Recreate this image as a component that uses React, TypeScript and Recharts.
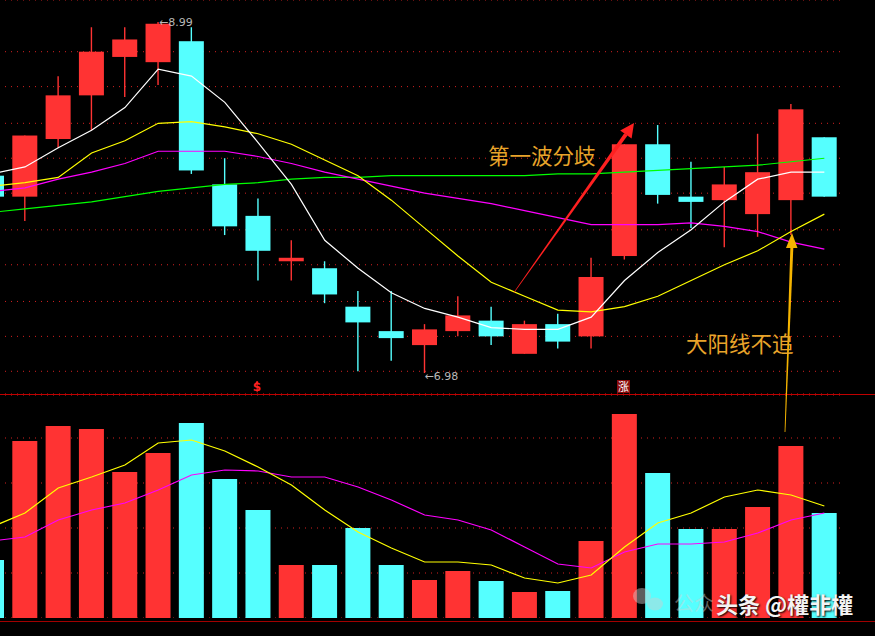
import React from "react";
import { Bar, CartesianGrid, Cell, ComposedChart, Line, XAxis, YAxis } from "recharts";

const RED = "#ff3333";
const CYAN = "#55ffff";
const GRID = "#d42020";

const days = Array.from({ length: 26 }, (_, i) => `D${i + 1}`);
const open = [8.11, 7.99, 8.32, 8.57, 8.79, 8.76, 8.88, 8.06, 7.88, 7.62, 7.58, 7.36, 7.22, 7.14, 7.22, 7.28, 7.09, 7.26, 7.19, 7.65, 8.29, 7.99, 7.97, 7.89, 7.97, 8.33];
const close = [7.99, 8.34, 8.57, 8.82, 8.89, 8.98, 8.14, 7.82, 7.68, 7.64, 7.43, 7.27, 7.18, 7.23, 7.31, 7.19, 7.26, 7.16, 7.53, 8.29, 8.0, 7.96, 8.06, 8.13, 8.49, 7.99];
const high = [8.12, 8.34, 8.68, 8.96, 8.96, 8.99, 8.96, 8.21, 7.98, 7.74, 7.62, 7.45, 7.45, 7.26, 7.42, 7.36, 7.28, 7.32, 7.64, 8.29, 8.4, 8.19, 8.16, 8.35, 8.52, 8.33];
const low = [7.98, 7.85, 8.27, 8.37, 8.56, 8.63, 8.12, 7.77, 7.51, 7.51, 7.38, 6.99, 7.05, 6.98, 7.19, 7.14, 7.09, 7.12, 7.12, 7.63, 7.95, 7.81, 7.7, 7.76, 7.77, 7.99];
const ma5 = [8.12, 8.16, 8.27, 8.37, 8.5, 8.72, 8.68, 8.53, 8.3, 8.06, 7.74, 7.58, 7.44, 7.35, 7.3, 7.24, 7.23, 7.23, 7.3, 7.51, 7.67, 7.8, 7.96, 8.09, 8.13, 8.13];
const ma10 = [8.05, 8.07, 8.1, 8.24, 8.31, 8.41, 8.42, 8.39, 8.35, 8.29, 8.2, 8.11, 7.97, 7.81, 7.65, 7.5, 7.42, 7.34, 7.33, 7.36, 7.42, 7.51, 7.6, 7.68, 7.79, 7.89];
const ma20 = [8.02, 8.04, 8.09, 8.13, 8.18, 8.25, 8.25, 8.25, 8.22, 8.18, 8.13, 8.09, 8.05, 8.01, 7.98, 7.95, 7.91, 7.87, 7.83, 7.83, 7.83, 7.84, 7.82, 7.79, 7.73, 7.69];
const ma60 = [7.9, 7.92, 7.94, 7.96, 7.99, 8.02, 8.04, 8.06, 8.07, 8.09, 8.1, 8.1, 8.11, 8.11, 8.11, 8.11, 8.11, 8.12, 8.12, 8.13, 8.14, 8.15, 8.16, 8.17, 8.19, 8.21];
const volume = [58, 177, 192, 189, 146, 165, 195, 139, 108, 53, 53, 90, 53, 38, 47, 37, 26, 27, 77, 204, 145, 89, 89, 111, 172, 105];
const volMa5 = [91, 105, 130, 141, 153, 175, 178, 167, 151, 133, 108, 86, 70, 56, 56, 53, 40, 35, 43, 71, 95, 105, 121, 128, 123, 112];
const volMa10 = [77, 81, 98, 108, 115, 128, 143, 148, 147, 141, 141, 131, 118, 103, 98, 88, 71, 54, 50, 66, 74, 74, 76, 85, 98, 105];
const priceTicks = [8.82, 8.62, 8.41, 8.21, 8.01, 7.8, 7.6, 7.39, 7.19, 6.99];
const volumeTicks = [45, 90, 135, 180];
const highMarkDay = "D6";
const lowMarkDay = "D14";

const rows = days.map((day, i) => ({
  day,
  open: open[i],
  close: close[i],
  high: high[i],
  low: low[i],
  range: [low[i], high[i]],
  ma5: ma5[i],
  ma10: ma10[i],
  ma20: ma20[i],
  ma60: ma60[i],
  vol: volume[i],
  volMa5: volMa5[i],
  volMa10: volMa10[i],
}));

function Candle(props: any) {
  const { x, y, width, height, payload } = props;
  const { open, close, high, low, day } = payload;
  const color = close >= open ? RED : CYAN;
  const k = height / (high - low);
  const yOpen = y + (high - open) * k;
  const yClose = y + (high - close) * k;
  const top = Math.min(yOpen, yClose);
  const bodyH = Math.max(Math.abs(yOpen - yClose), 2.5);
  const cx = x + width / 2;
  return (
    <g>
      <line x1={cx} x2={cx} y1={y} y2={y + height} stroke={color} strokeWidth={1.4} />
      <rect x={x} y={top} width={width} height={bodyH} fill={color} />
      {day === highMarkDay && (
        <text x={cx + 1} y={y + 1} dominantBaseline="middle" fill="#b8b8b8" fontSize={11} fontFamily="DejaVu Sans">
          {"\u2190" + high.toFixed(2)}
        </text>
      )}
      {day === lowMarkDay && (
        <text x={cx} y={y + height + 4} dominantBaseline="middle" fill="#b8b8b8" fontSize={11} fontFamily="DejaVu Sans">
          {"\u2190" + low.toFixed(2)}
        </text>
      )}
    </g>
  );
}

const textStyle = {
  position: "absolute" as const,
  fontFamily: "'Noto Sans CJK SC', sans-serif",
  color: "#e8a42a",
  fontSize: 21.5,
  lineHeight: "22px",
  whiteSpace: "nowrap" as const,
};

export default function App() {
  return (
    <div
      style={{
        position: "fixed",
        left: 0,
        top: 0,
        width: 875,
        height: 636,
        background: "#000",
        overflow: "hidden",
      }}
    >
      <div style={{ position: "absolute", left: -25, top: 0 }}>
        <ComposedChart width={866} height={394} data={rows} margin={{ top: 0, right: 0, bottom: 0, left: 0 }}>
          <CartesianGrid vertical={false} stroke={GRID} strokeDasharray="1 5" />
          <XAxis dataKey="day" hide />
          <YAxis hide domain={[6.86, 9.116]} ticks={priceTicks} allowDataOverflow />
          <Bar dataKey="range" barSize={25} shape={<Candle />} isAnimationActive={false} />
          <Line dataKey="ma60" stroke="#00ff00" dot={false} strokeWidth={1.2} isAnimationActive={false} />
          <Line dataKey="ma20" stroke="#ff00ff" dot={false} strokeWidth={1.2} isAnimationActive={false} />
          <Line dataKey="ma10" stroke="#ffff00" dot={false} strokeWidth={1.2} isAnimationActive={false} />
          <Line dataKey="ma5" stroke="#ffffff" dot={false} strokeWidth={1.2} isAnimationActive={false} />
        </ComposedChart>
      </div>

      <div style={{ position: "absolute", left: 0, top: 394, width: 875, height: 1, background: "#c00000" }} />
      <div style={{ position: "absolute", left: 0, top: 621, width: 875, height: 1, background: "#a00000" }} />

      <div style={{ position: "absolute", left: -25, top: 395 }}>
        <ComposedChart width={866} height={223} data={rows} margin={{ top: 0, right: 0, bottom: 0, left: 0 }}>
          <CartesianGrid vertical={false} stroke={GRID} strokeDasharray="1 5" />
          <XAxis dataKey="day" hide />
          <YAxis hide domain={[0, 223]} ticks={volumeTicks} allowDataOverflow />
          <Bar dataKey="vol" barSize={25} isAnimationActive={false}>
            {rows.map((r) => (
              <Cell key={r.day} fill={r.close >= r.open ? RED : CYAN} />
            ))}
          </Bar>
          <Line dataKey="volMa10" stroke="#ff00ff" dot={false} strokeWidth={1.2} isAnimationActive={false} />
          <Line dataKey="volMa5" stroke="#ffff00" dot={false} strokeWidth={1.2} isAnimationActive={false} />
        </ComposedChart>
      </div>

      <svg width={875} height={636} style={{ position: "absolute", left: 0, top: 0, pointerEvents: "none" }}>
        <polygon points="513.8,292.2 514.2,292.8 627.5,135.6 624.3,133.2" fill="#ff2020" />
        <polygon points="620.2,130.4 631.6,138.4 634,123" fill="#ff2020" />
        <polygon points="784.6,432 785.4,432 793.4,246 790.4,246" fill="#f5b400" />
        <polygon points="786,248 797.5,248 792,233" fill="#f5b400" />
        <text x={257} y={391} textAnchor="middle" fill="#ff2020" fontSize={12} fontWeight="bold" fontFamily="DejaVu Sans">
          $
        </text>
        <polygon points="254.5,384 259.5,384 257,381" fill="#ff2020" />
        <rect x={617} y={380} width={13} height={13} fill="#8a0c0c" />
        <text x={623.5} y={391} textAnchor="middle" fill="#ffffff" fontSize={11} fontFamily="'Noto Sans CJK SC'">
          涨
        </text>
        <g opacity={0.45} fill="#cfcfcf">
          <ellipse cx={642} cy={596} rx={9} ry={8} />
          <ellipse cx={655} cy={604} rx={8} ry={6.5} />
        </g>
      </svg>

      <div style={{ ...textStyle, left: 488, top: 144 }}>第一波分歧</div>
      <div style={{ ...textStyle, left: 686, top: 332 }}>大阳线不追</div>

      <div
        style={{
          position: "absolute",
          left: 674,
          top: 588,
          fontFamily: "'Noto Sans CJK SC', sans-serif",
          fontSize: 20,
          color: "rgba(210,210,210,0.45)",
          whiteSpace: "nowrap",
        }}
      >
        公众
      </div>
      <div
        style={{
          position: "absolute",
          left: 716,
          top: 587,
          fontFamily: "'Noto Sans CJK SC', sans-serif",
          fontSize: 22,
          fontWeight: 700,
          color: "#f4f4f4",
          whiteSpace: "nowrap",
          textShadow: "1px 1px 2px #000",
        }}
      >
        头条 @權非權
      </div>
    </div>
  );
}
